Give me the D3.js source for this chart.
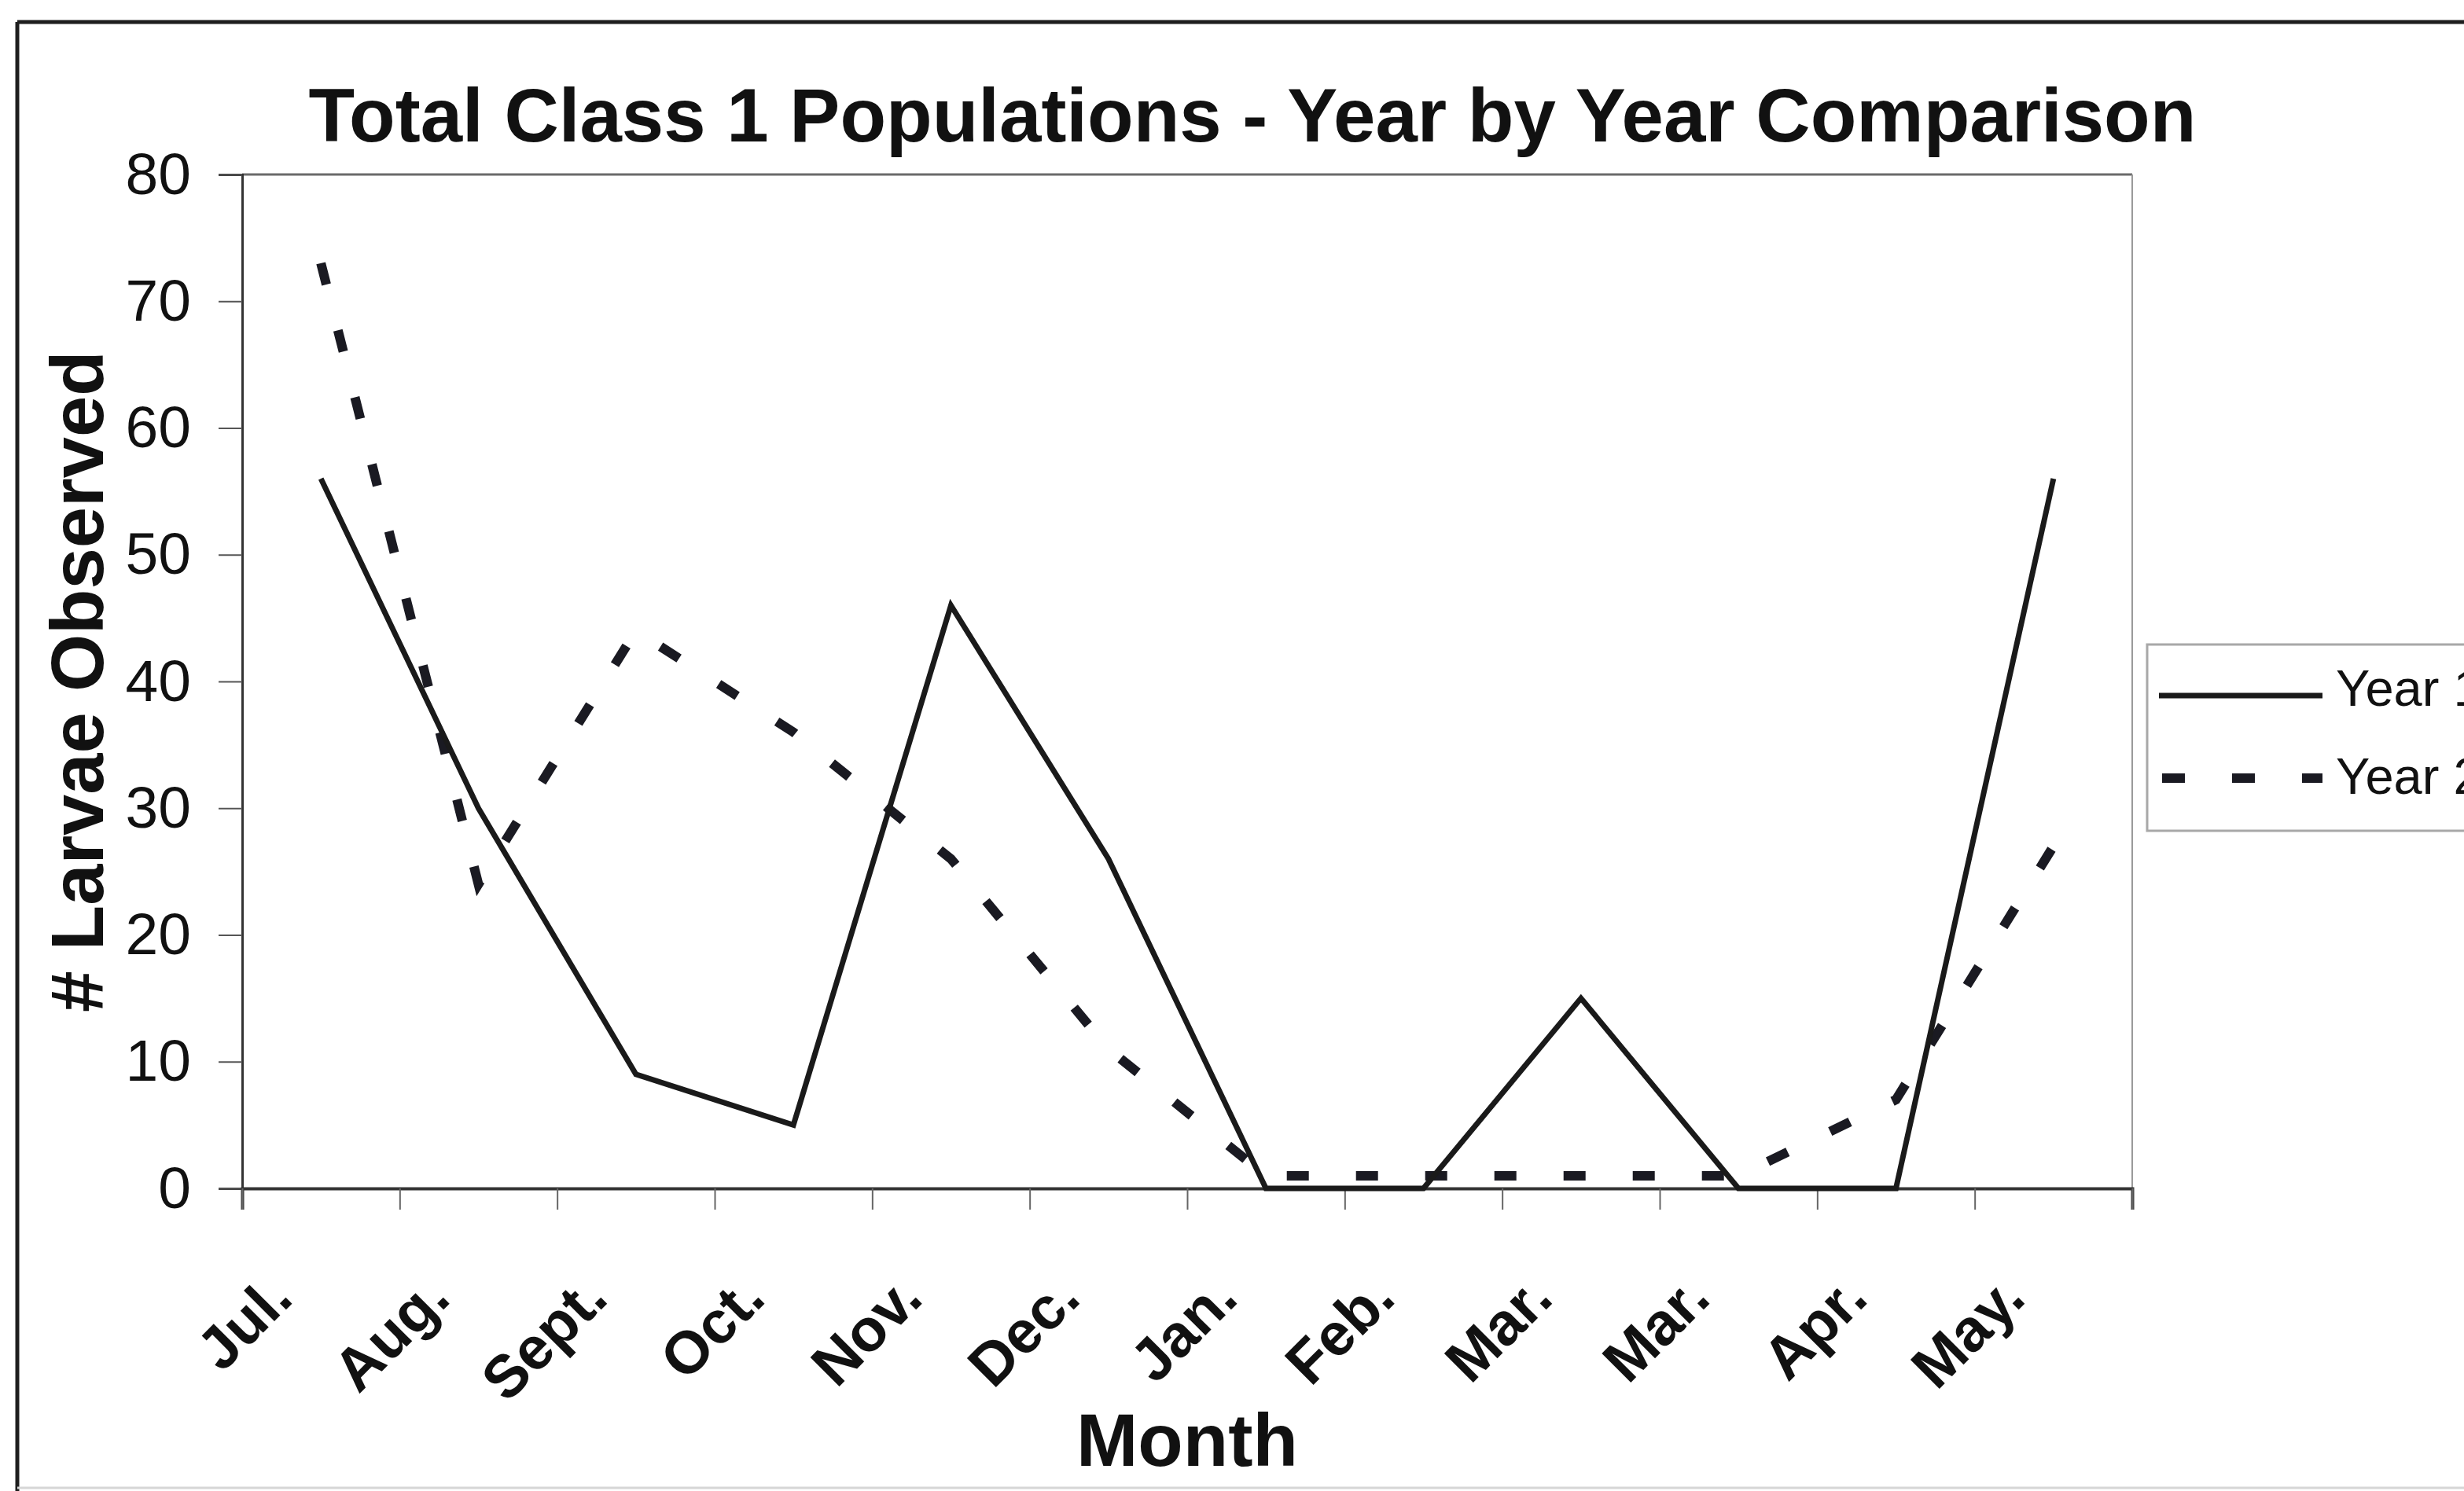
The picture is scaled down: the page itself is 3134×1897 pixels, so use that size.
<!DOCTYPE html>
<html>
<head>
<meta charset="utf-8">
<script src="https://cdn.jsdelivr.net/npm/d3@7"></script>
<style>
  html, body { margin: 0; padding: 0; background: #ffffff; overflow: hidden; }
  svg { display: block; font-family: Arial, "Liberation Sans", sans-serif; }
</style>
</head>
<body>
<svg id="chart" width="3134" height="1897"></svg>
<script>
// Monthly counts of class 1 larvae, two survey years
const months = ["Jul.", "Aug.", "Sept.", "Oct.", "Nov.", "Dec.", "Jan.", "Feb.", "Mar.", "Mar.", "Apr.", "May."];
const year1 = [56, 30, 9, 5, 46, 26, 0, 0, 15, 0, 0, 56];
const year2 = [73, 24, 44, 36, 26, 11, 1, 1, 1, 1, 7, 27];
const yTicks = [0, 10, 20, 30, 40, 50, 60, 70, 80];
const seriesNames = ["Year 1", "Year 2"];

const svg = d3.select("#chart");
const W = 3134, H = 1897;

const plot = { left: 308, right: 2712, top: 222, bottom: 1512 };

const x = d3.scaleBand()
  .domain(d3.range(months.length))
  .range([plot.left, plot.right])
  .paddingInner(0).paddingOuter(0);
const xEdge = d3.scaleLinear().domain([0, months.length]).range([plot.left, plot.right]);
const y = d3.scaleLinear().domain([0, 80]).range([plot.bottom, plot.top]);

// outer chart frame
svg.append("line").attr("x1", 22).attr("x2", W + 10).attr("y1", 28).attr("y2", 28)
  .attr("stroke", "#1e1e1e").attr("stroke-width", 5);
svg.append("line").attr("x1", 22).attr("x2", 22).attr("y1", 28).attr("y2", H + 10)
  .attr("stroke", "#1e1e1e").attr("stroke-width", 5);
svg.append("line").attr("x1", 22).attr("x2", W).attr("y1", 1893).attr("y2", 1893)
  .attr("stroke", "#d6d6d6").attr("stroke-width", 3);

// title
svg.append("text")
  .attr("x", 1593).attr("y", 180)
  .attr("text-anchor", "middle")
  .attr("font-weight", "bold").attr("font-size", 96)
  .attr("fill", "#111")
  .text("Total Class 1 Populations - Year by Year Comparison");

// plot area frame (top and right edges)
svg.append("line").attr("x1", plot.left).attr("x2", plot.right).attr("y1", plot.top).attr("y2", plot.top)
  .attr("stroke", "#6a6a6a").attr("stroke-width", 3);
svg.append("line").attr("x1", plot.right).attr("x2", plot.right).attr("y1", plot.top).attr("y2", plot.bottom)
  .attr("stroke", "#9a9a9a").attr("stroke-width", 2);

// y axis
const yAxis = svg.append("g")
  .attr("transform", `translate(${plot.left},0)`)
  .call(d3.axisLeft(y).tickValues(yTicks).tickSize(30).tickPadding(35));
yAxis.select(".domain").attr("stroke", "#333").attr("stroke-width", 3);
yAxis.selectAll(".tick line").attr("stroke", "#555").attr("stroke-width", 2);
yAxis.selectAll(".tick text")
  .attr("font-size", 75).attr("fill", "#111")
  .attr("font-family", "Arial, 'Liberation Sans', sans-serif");

// x axis: ticks on category boundaries
const xAxis = svg.append("g")
  .attr("transform", `translate(0,${plot.bottom})`)
  .call(d3.axisBottom(xEdge).tickValues(d3.range(months.length + 1)).tickSize(27).tickFormat(""));
xAxis.select(".domain").attr("stroke", "#333").attr("stroke-width", 4);
xAxis.selectAll(".tick line").attr("stroke", "#666").attr("stroke-width", 2);

// rotated month labels
svg.append("g").selectAll("text")
  .data(months)
  .join("text")
  .attr("transform", (d, i) => `translate(${x(i) + x.bandwidth() / 2 - 33},1655) rotate(-45)`)
  .attr("text-anchor", "end")
  .attr("font-weight", "bold").attr("font-size", 76)
  .attr("fill", "#111")
  .text(d => d);

// axis titles
svg.append("text")
  .attr("x", (plot.left + plot.right) / 2).attr("y", 1865)
  .attr("text-anchor", "middle")
  .attr("font-weight", "bold").attr("font-size", 94)
  .attr("fill", "#111")
  .text("Month");

svg.append("text")
  .attr("transform", `translate(131,${(plot.top + plot.bottom) / 2}) rotate(-90)`)
  .attr("text-anchor", "middle")
  .attr("font-weight", "bold").attr("font-size", 94)
  .attr("fill", "#111")
  .text("# Larvae Observed");

// series lines
const line = d3.line()
  .x((d, i) => x(i) + x.bandwidth() / 2)
  .y(d => y(d));

svg.append("path")
  .datum(year2)
  .attr("d", line)
  .attr("fill", "none")
  .attr("stroke", "#1a1a22")
  .attr("stroke-width", 12)
  .attr("stroke-dasharray", "28,60");

svg.append("path")
  .datum(year1)
  .attr("d", line)
  .attr("fill", "none")
  .attr("stroke", "#1a1a1a")
  .attr("stroke-width", 7)
  .attr("stroke-linejoin", "miter");

// legend (runs past the right edge of the page)
const legend = svg.append("g");
legend.append("rect")
  .attr("x", 2731).attr("y", 820)
  .attr("width", 500).attr("height", 237)
  .attr("fill", "#fff").attr("stroke", "#a8a8a8").attr("stroke-width", 3);

legend.append("line")
  .attr("x1", 2746).attr("x2", 2954).attr("y1", 885).attr("y2", 885)
  .attr("stroke", "#1a1a1a").attr("stroke-width", 7);
legend.append("line")
  .attr("x1", 2750).attr("x2", 2954).attr("y1", 990).attr("y2", 990)
  .attr("stroke", "#1a1a22").attr("stroke-width", 12)
  .attr("stroke-dasharray", "29,60");

legend.selectAll("text")
  .data(seriesNames)
  .join("text")
  .attr("x", 2971)
  .attr("y", (d, i) => i === 0 ? 898 : 1010)
  .attr("font-size", 65).attr("fill", "#111")
  .text(d => d);
</script>
</body>
</html>
